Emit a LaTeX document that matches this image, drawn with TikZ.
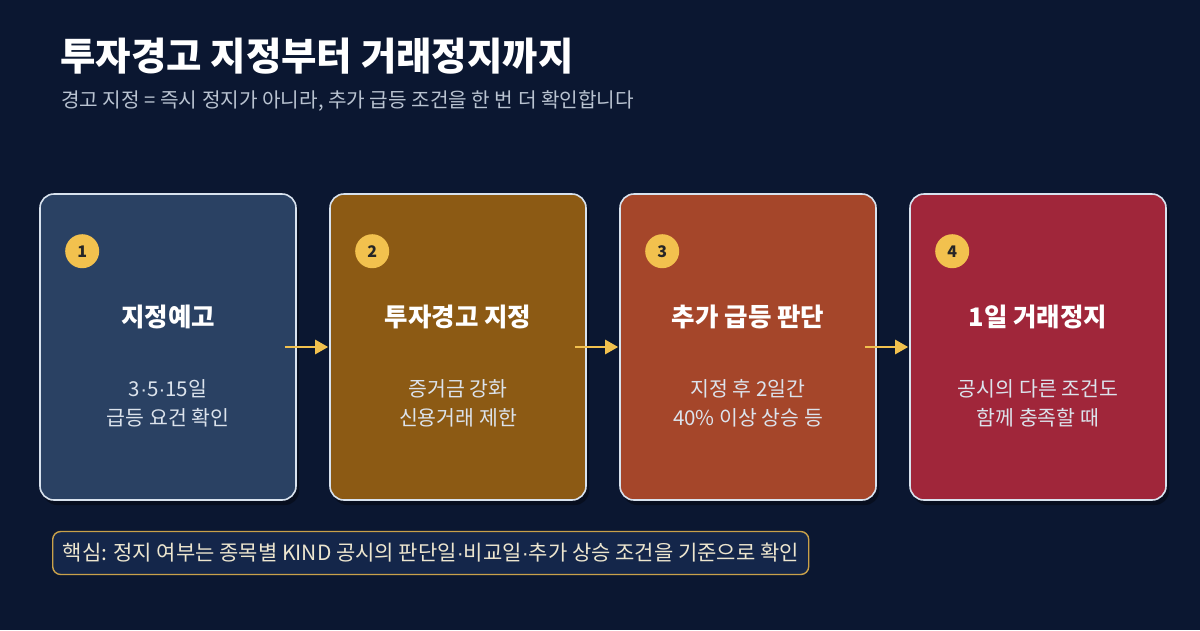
\documentclass[tikz,border=0pt]{standalone}
\usepackage{fontspec}
\setmainfont{Noto Sans CJK KR}
\newfontfamily\latinfont{Liberation Sans}
\newcommand{\mdot}{{\latinfont ·}}
\usetikzlibrary{positioning, calc, shadows, arrows.meta}

\definecolor{bgnavy}{HTML}{0B1731}
\definecolor{stepnavy}{HTML}{2A4163}
\definecolor{stepochre}{HTML}{8C5A14}
\definecolor{steprust}{HTML}{A5462A}
\definecolor{stepcrimson}{HTML}{A0263A}
\definecolor{boxline}{HTML}{D8E2EE}
\definecolor{gold}{HTML}{F2C14E}
\definecolor{notefill}{HTML}{14264A}
\definecolor{noteline}{HTML}{C9A14A}
\definecolor{notetext}{HTML}{EDE6CF}
\definecolor{subgray}{HTML}{B9C3D1}
\definecolor{bodytext}{HTML}{DCE3EC}

\begin{document}
\begin{tikzpicture}[x=1pt, y=-1pt,
    stepbox/.style={draw=boxline, line width=1.6pt, rounded corners=14pt,
      minimum width=256pt, minimum height=306pt,
      drop shadow={fill=black, opacity=0.35, shadow xshift=3pt, shadow yshift=-5pt}},
    badge/.style={circle, fill=gold, minimum size=34pt, inner sep=0pt,
      font=\fontsize{16}{16}\selectfont\bfseries, text=black!85},
    steptitle/.style={font=\fontsize{25.5}{30}\selectfont\bfseries, text=white},
    stepbody/.style={font=\fontsize{20.5}{29}\selectfont, text=bodytext, align=center},
    flow/.style={-{Triangle[length=13pt, width=14pt]}, line width=2.6pt, draw=gold}]
    % Background
    \fill[bgnavy] (0,0) rectangle (1200,630);
    % Heading
    \node[anchor=west, inner sep=0pt, text=white, font=\fontsize{38.5}{42}\selectfont\bfseries]
      (title) at (60,56) {투자경고 지정부터 거래정지까지};
    \node[anchor=west, inner sep=0pt, text=subgray, font=\fontsize{20.2}{24}\selectfont]
      (subtitle) at (61,101) {경고 지정 = 즉시 정지가 아니라, 추가 급등 조건을 한 번 더 확인합니다};
    % Step boxes
    \node[stepbox, fill=stepnavy] (s1) at (168,347) {};
    \node[stepbox, fill=stepochre] (s2) at (458,347) {};
    \node[stepbox, fill=steprust] (s3) at (748,347) {};
    \node[stepbox, fill=stepcrimson] (s4) at (1038,347) {};
    % Badges
    \node[badge] (b1) at ($(s1.north west)+(43,58)$) {1};
    \node[badge] (b2) at ($(s2.north west)+(43,58)$) {2};
    \node[badge] (b3) at ($(s3.north west)+(43,58)$) {3};
    \node[badge] (b4) at ($(s4.north west)+(43,58)$) {4};
    % Step titles
    \node[steptitle] (t1) at ($(s1.north)+(0,124)$) {지정예고};
    \node[steptitle] (t2) at ($(s2.north)+(0,124)$) {투자경고 지정};
    \node[steptitle] (t3) at ($(s3.north)+(0,124)$) {추가 급등 판단};
    \node[steptitle] (t4) at ($(s4.north)+(0,124)$) {1일 거래정지};
    % Step details
    \node[stepbody] (d1) at ($(s1.north)+(0,210)$) {3\mdot5\mdot15일\\급등 요건 확인};
    \node[stepbody] (d2) at ($(s2.north)+(0,210)$) {증거금 강화\\신용거래 제한};
    \node[stepbody] (d3) at ($(s3.north)+(0,210)$) {지정 후 2일간\\40\% 이상 상승 등};
    \node[stepbody] (d4) at ($(s4.north)+(0,210)$) {공시의 다른 조건도\\함께 충족할 때};
    % Flow arrows
    \draw[flow] ([xshift=-12pt]s1.east) -- ([xshift=-1pt]s2.west);
    \draw[flow] ([xshift=-12pt]s2.east) -- ([xshift=-1pt]s3.west);
    \draw[flow] ([xshift=-12pt]s3.east) -- ([xshift=-1pt]s4.west);
    % Key note
    \node[anchor=west, draw=noteline, line width=1.4pt, fill=notefill, rounded corners=8pt,
      minimum height=43pt, inner xsep=10pt, text=notetext, font=\fontsize{21}{24}\selectfont]
      (note) at (52,553) {핵심: 정지 여부는 종목별 KIND 공시의 판단일\mdot 비교일\mdot 추가 상승 조건을 기준으로 확인};
  \end{tikzpicture}
\end{document}
